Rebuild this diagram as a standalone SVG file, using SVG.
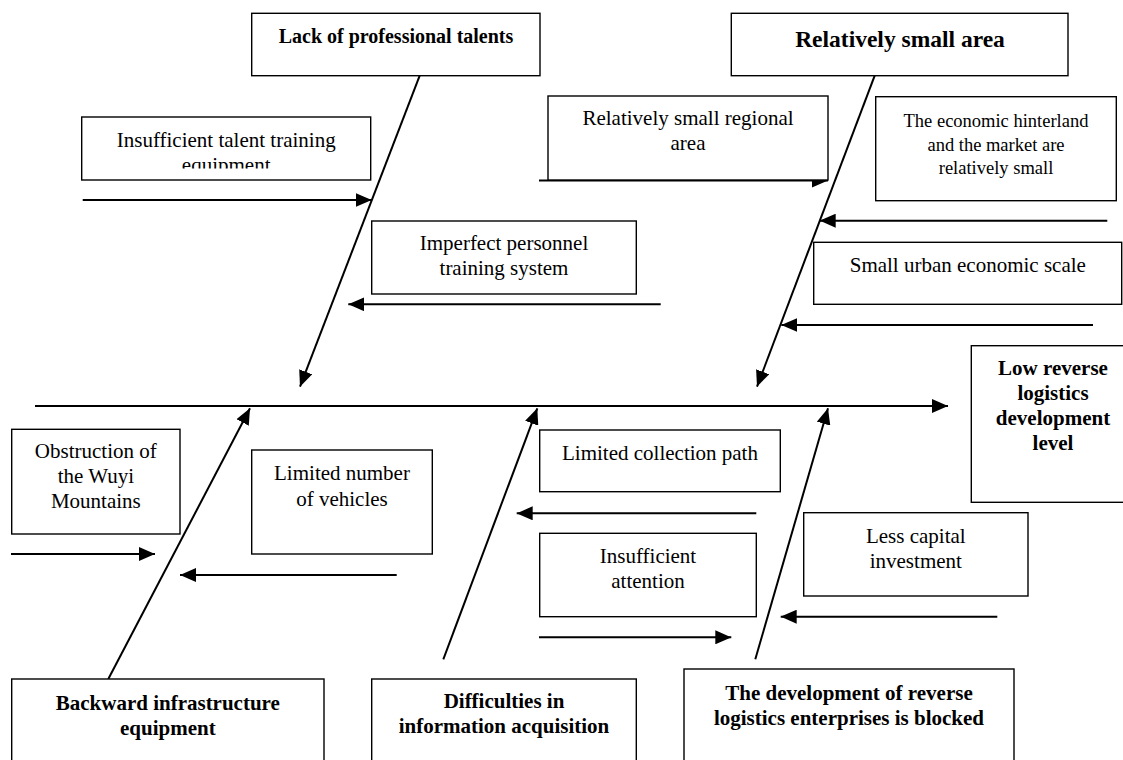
<svg xmlns="http://www.w3.org/2000/svg" width="1123" height="760" viewBox="0 0 1123 760">
<style>
  .box { fill: #fff; stroke: #000; stroke-width: 1.4; }
  .t { font-family: "Liberation Serif", "Times New Roman", serif; font-size: 21px; fill: #000; text-anchor: middle; }
  .b { font-weight: bold; }
  .c { stroke: #000; stroke-width: 2; fill: none; marker-end: url(#ah); }
</style>
<defs>
  <marker id="ah" viewBox="0 0 16 14" refX="16" refY="7" markerWidth="16" markerHeight="14" markerUnits="userSpaceOnUse" orient="auto">
    <path d="M0,0 L16,7 L0,14 z" fill="#000"/>
  </marker>
  <clipPath id="clipEquip"><rect x="82" y="117" width="288" height="51.5"/></clipPath>
</defs>
<rect width="1123" height="760" fill="#fff"/>

<g id="connectors">
  <line class="c" x1="35" y1="406" x2="948" y2="406"/>
  <line class="c" x1="419.7" y1="75.7" x2="300" y2="386.7"/>
  <line class="c" x1="874.7" y1="75.7" x2="757" y2="386.7"/>
  <line class="c" x1="108.3" y1="679" x2="250" y2="408.3"/>
  <line class="c" x1="443.3" y1="659.3" x2="537.3" y2="408.3"/>
  <line class="c" x1="755.3" y1="659.3" x2="828" y2="408.3"/>
  <line class="c" x1="82.7" y1="200" x2="371.7" y2="200"/>
  <line class="c" x1="660.7" y1="304.3" x2="348.3" y2="304.3"/>
  <line class="c" x1="539" y1="180.5" x2="828" y2="180.5"/>
  <line class="c" x1="1107.3" y1="220.7" x2="819.7" y2="220.7"/>
  <line class="c" x1="1093" y1="325" x2="781.3" y2="325"/>
  <line class="c" x1="11" y1="554" x2="155" y2="554"/>
  <line class="c" x1="396.7" y1="575" x2="180" y2="575"/>
  <line class="c" x1="756.3" y1="513.3" x2="516.7" y2="513.3"/>
  <line class="c" x1="539" y1="637.3" x2="731.3" y2="637.3"/>
  <line class="c" x1="997.3" y1="616.7" x2="780.7" y2="616.7"/>
</g>

<g id="n-lack">
  <rect class="box" x="251.7" y="13.3" width="288.3" height="62.4"/>
  <text class="t b" x="396" y="42.7" style="font-size:20px">Lack of professional talents</text>
</g>
<g id="n-area">
  <rect class="box" x="731.3" y="13.3" width="336.7" height="62.4"/>
  <text class="t b" x="900" y="46.7" style="font-size:23.5px">Relatively small area</text>
</g>
<g id="n-talent-equipment">
  <rect class="box" x="81.7" y="117" width="289" height="63"/>
  <text class="t" x="226.2" y="146.7">Insufficient talent training</text>
  <text class="t" x="226.2" y="171.5" clip-path="url(#clipEquip)">equipment</text>
</g>
<g id="n-regional">
  <rect class="box" x="548" y="96" width="280" height="84"/>
  <text class="t" x="688" y="125">Relatively small regional</text>
  <text class="t" x="688" y="150">area</text>
</g>
<g id="n-hinterland">
  <rect class="box" x="875.7" y="96.7" width="240.6" height="104"/>
  <text class="t" x="996" y="126.7" style="font-size:18.5px">The economic hinterland</text>
  <text class="t" x="996" y="150.7" style="font-size:18.5px">and the market are</text>
  <text class="t" x="996" y="174" style="font-size:18.5px">relatively small</text>
</g>
<g id="n-personnel">
  <rect class="box" x="371.7" y="221" width="264.6" height="73"/>
  <text class="t" x="504" y="250">Imperfect personnel</text>
  <text class="t" x="504" y="275">training system</text>
</g>
<g id="n-urban">
  <rect class="box" x="813.7" y="242.3" width="308" height="62"/>
  <text class="t" x="967.8" y="271.7">Small urban economic scale</text>
</g>
<g id="n-result">
  <rect class="box" x="971.3" y="345.7" width="165" height="156.6"/>
  <text class="t b" x="1053" y="375">Low reverse</text>
  <text class="t b" x="1053" y="400">logistics</text>
  <text class="t b" x="1053" y="425">development</text>
  <text class="t b" x="1053" y="450">level</text>
</g>
<g id="n-wuyi">
  <rect class="box" x="11.7" y="429.3" width="168.3" height="104.7"/>
  <text class="t" x="95.8" y="458.3">Obstruction of</text>
  <text class="t" x="95.8" y="483.3">the Wuyi</text>
  <text class="t" x="95.8" y="508.3">Mountains</text>
</g>
<g id="n-vehicles">
  <rect class="box" x="251.7" y="450" width="180.6" height="104"/>
  <text class="t" x="342" y="480">Limited number</text>
  <text class="t" x="342" y="506">of vehicles</text>
</g>
<g id="n-collection">
  <rect class="box" x="539.7" y="430" width="240.6" height="61.7"/>
  <text class="t" x="660" y="460">Limited collection path</text>
</g>
<g id="n-attention">
  <rect class="box" x="539.7" y="533.3" width="216.6" height="83.4"/>
  <text class="t" x="648" y="563.3">Insufficient</text>
  <text class="t" x="648" y="588.3">attention</text>
</g>
<g id="n-capital">
  <rect class="box" x="803.7" y="512.7" width="224.3" height="83.3"/>
  <text class="t" x="915.8" y="543.3">Less capital</text>
  <text class="t" x="915.8" y="568.3">investment</text>
</g>
<g id="n-backward">
  <rect class="box" x="11.7" y="679" width="312.3" height="100"/>
  <text class="t b" x="167.8" y="710">Backward infrastructure</text>
  <text class="t b" x="167.8" y="735">equipment</text>
</g>
<g id="n-difficulties">
  <rect class="box" x="371.7" y="679" width="264.6" height="100"/>
  <text class="t b" x="504" y="708.3">Difficulties in</text>
  <text class="t b" x="504" y="733.3">information acquisition</text>
</g>
<g id="n-blocked">
  <rect class="box" x="684" y="669" width="330" height="110"/>
  <text class="t b" x="849" y="700">The development of reverse</text>
  <text class="t b" x="849" y="724.5">logistics enterprises is blocked</text>
</g>
</svg>
